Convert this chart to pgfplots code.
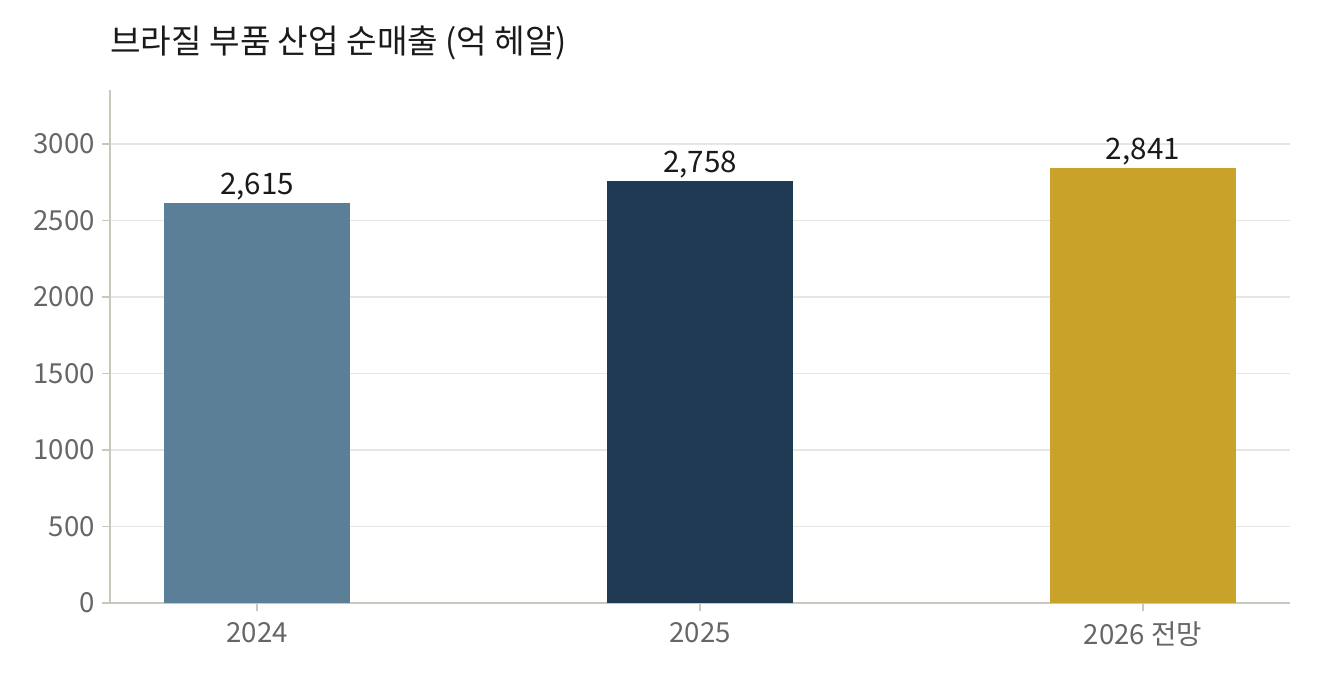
\documentclass[border=0pt]{standalone}
\usepackage{pgfplots}
\pgfplotsset{compat=1.18}
\usepackage{fontspec}
\setmainfont{Noto Sans CJK KR}
\definecolor{c1}{HTML}{5C7F98}
\definecolor{c2}{HTML}{213A53}
\definecolor{c3}{HTML}{C9A229}
\definecolor{axc}{HTML}{C8C8BE}
\definecolor{gridc}{HTML}{E6E6E2}
\definecolor{tickc}{HTML}{666666}
\definecolor{txt}{HTML}{1A1A1A}
\begin{document}
\begin{tikzpicture}[x=1pt,y=1pt]
\path (0,0) rectangle (660,340);
\node[anchor=base west,font=\fontsize{16.6}{19}\selectfont,text=txt,inner sep=0pt] at (55,313) {브라질 부품 산업 순매출 (억 헤알)};
\begin{axis}[
  at={(55pt,38.5pt)}, anchor=south west,
  scale only axis, width=590pt, height=256.5pt,
  xmin=-0.332, xmax=2.332, ymin=0, ymax=3353,
  axis x line*=bottom, axis y line*=left,
  axis line style={axc, line width=0.8pt},
  tick align=outside, major tick length=4pt,
  tick style={axc, line width=0.8pt},
  xtick={0,1,2}, xticklabels={2024,2025,2026 전망},
  ytick={0,500,1000,1500,2000,2500,3000},
  ymajorgrids, grid style={gridc, line width=0.6pt},
  ticklabel style={font=\fontsize{13.8}{16}\selectfont, text=tickc},
  xticklabel style={yshift=-2pt},
  /pgf/number format/assume math mode=true,
  /pgf/number format/1000 sep={},
  ybar, bar width=0.42, bar shift=0pt,
  nodes near coords={\pgfmathprintnumber[1000 sep={,}]{\pgfplotspointmeta}},
  nodes near coords style={font=\fontsize{14.8}{17}\selectfont, text=txt, yshift=-2pt, /pgf/number format/assume math mode=true},
  every axis plot/.append style={draw=none},
  clip=false,
]
\addplot[fill=c1] coordinates {(0,2615)};
\addplot[fill=c2] coordinates {(1,2758)};
\addplot[fill=c3] coordinates {(2,2841)};
\end{axis}
\end{tikzpicture}
\end{document}
